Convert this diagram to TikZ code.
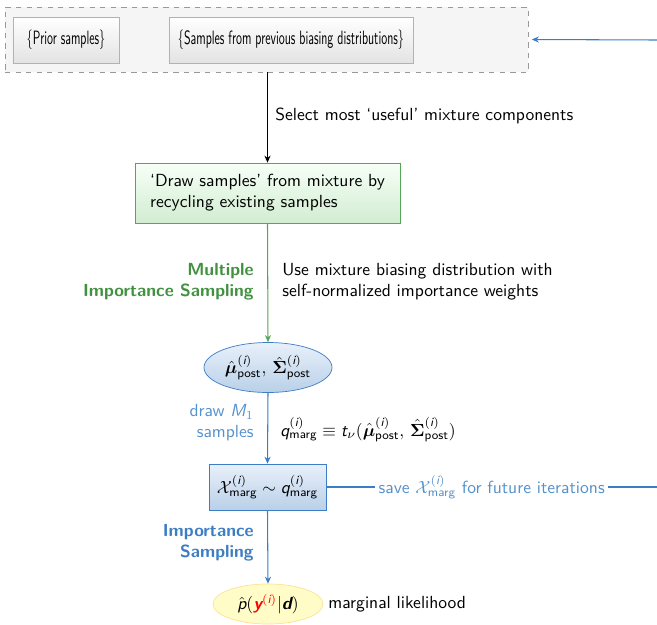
\documentclass[tikz,border=0pt]{standalone}
\usepackage{amsmath,bm,graphicx}
\usetikzlibrary{shapes.geometric,arrows.meta}
\renewcommand{\familydefault}{\sfdefault}
\definecolor{gline}{RGB}{85,165,85}
\definecolor{gtext}{RGB}{65,145,65}
\definecolor{bline}{RGB}{60,125,195}
\definecolor{btext}{RGB}{85,145,205}
\definecolor{bfillt}{RGB}{232,240,250}
\definecolor{bfillb}{RGB}{185,208,232}
\newlength\pxu
\setlength\pxu{0.57pt}
\newcommand{\narrowtxt}[1]{\scalebox{0.63}[1.0]{#1}}
\newcommand{\mi}[1]{\text{\sffamily\itshape #1}}
\newcommand{\mbi}[1]{\text{\sffamily\bfseries\itshape #1}}
\begin{document}
\begin{tikzpicture}[x=0.57pt,y=-0.57pt,
  every node/.style={font=\fontsize{10}{12}\selectfont\sffamily},
  graybox/.style={draw=gray!60, top color=white, bottom color=gray!22, minimum height=46*\pxu, inner sep=0pt},
  outerbox/.style={draw=gray!80, dashed, fill=gray!8, inner sep=0pt},
  greenbox/.style={draw=gline, top color=green!3, bottom color=green!60!black!18, minimum height=60*\pxu, minimum width=265*\pxu, align=left, inner sep=0pt},
  blueell/.style={ellipse, draw=bline, top color=bfillt, bottom color=bfillb, minimum width=128*\pxu, minimum height=50*\pxu, inner sep=0pt},
  bluebox/.style={draw=bline, top color=bfillt, bottom color=bfillb, minimum width=117*\pxu, minimum height=46*\pxu, inner sep=0pt},
  yellell/.style={ellipse, draw=yellow!50!orange!40, fill=yellow!22, minimum width=110*\pxu, minimum height=40*\pxu, inner sep=0pt},
  arr/.style={-{Stealth[length=4pt,width=3.5pt]}, line width=0.6pt},
  lbl/.style={inner sep=0pt, align=left},
  lblr/.style={inner sep=0pt, align=right, font=\fontsize{10}{12}\selectfont\sffamily\bfseries}
]
\useasboundingbox (0,0) rectangle (657,624);
\node[outerbox, minimum width=523*\pxu, minimum height=65*\pxu] (outer) at (266.5,39.5) {};
\node[graybox, minimum width=106*\pxu] (prior) at (66,40) {\narrowtxt{\fontsize{11}{13}\selectfont\{Prior samples\}}};
\node[graybox, minimum width=244*\pxu] (prev) at (291,40) {\narrowtxt{\fontsize{11}{13}\selectfont\{Samples from previous biasing distributions\}}};
\node[greenbox] (draw) at (267.5,193) {`Draw samples' from mixture by\\recycling existing samples};
\node[blueell] (post) at (268,367.5) {$\hat{\bm{\mu}}^{(\mi{i})}_{\text{post}},\,\hat{\bm{\Sigma}}^{(\mi{i})}_{\text{post}}$};
\node[bluebox] (xm) at (267.5,487) {$\mathcal{X}^{(\mi{i})}_{\text{marg}}\sim \mi{q}^{(\mi{i})}_{\text{marg}}$};
\node[yellell] (lik) at (268,604) {$\hat{\mi{p}}(\textcolor{red}{\mbi{y}^{(\mi{i})}}|\mbi{d})$};
\coordinate (rtop) at (657,40);
\coordinate (rbot) at (657,487);
% connectors
\draw[arr, black] (outer.south -| draw.north) -- (draw.north);
\draw[arr, gline] (draw.south) -- (post.north);
\draw[arr, bline] (post.south) -- (xm.north);
\draw[arr, bline] (xm.south) -- (lik.north);
\draw[arr, bline] (rtop) -- ([xshift=2pt]outer.east);
\draw[bline, line width=0.6pt] (xm.east) -- node[fill=white, inner xsep=2pt, text=btext] (save) {save $\mathcal{X}^{(\mi{i})}_{\text{marg}}$ for future iterations} (rbot);
% labels
\node[lbl, anchor=west] (sel) at (275,116) {Select most `useful' mixture components};
\node[lblr, anchor=east, text=gtext] (mis) at (254,282) {Multiple\\Importance Sampling};
\node[lbl, anchor=west] (use) at (282,282) {Use mixture biasing distribution with\\self-normalized importance weights};
\node[lbl, anchor=east, align=right, text=btext] (dm) at (254,423) {draw $\mi{M}_1$\\samples};
\node[lbl, anchor=west] (q) at (280,430) {$\mi{q}^{(\mi{i})}_{\text{marg}}\equiv \mi{t}_\nu(\hat{\bm{\mu}}^{(\mi{i})}_{\text{post}},\,\hat{\bm{\Sigma}}^{(\mi{i})}_{\text{post}})$};
\node[lblr, anchor=east, text=bline] (is) at (254,543) {Importance\\Sampling};
\node[lbl, anchor=west] (ml) at (328,604) {marginal likelihood};
\end{tikzpicture}
\end{document}
